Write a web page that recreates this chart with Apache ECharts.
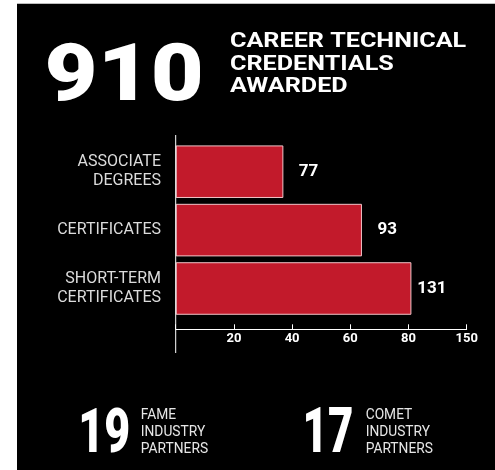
<!DOCTYPE html>
<html>
<head>
<meta charset="utf-8">
<script src="https://cdn.jsdelivr.net/npm/echarts@6/dist/echarts.min.js"></script>
<style>
html,body{margin:0;padding:0;background:#fff;}
#c{width:495px;height:470px;}
</style>
</head>
<body>
<div id="c"></div>
<script>
// Data
const categories = ['ASSOCIATE\nDEGREES', 'CERTIFICATES', 'SHORT-TERM\nCERTIFICATES'];
const barLengths = [37, 64, 81];
const valueLabels = ['77', '93', '131'];
const xTickValues = [20, 40, 60, 80, 100];
const xTickLabels = ['20', '40', '60', '80', '150'];
const totalCredentials = '910';
const headline = 'CAREER TECHNICAL\nCREDENTIALS\nAWARDED';
const fameCount = '19';
const fameText = 'FAME\nINDUSTRY\nPARTNERS';
const cometCount = '17';
const cometText = 'COMET\nINDUSTRY\nPARTNERS';

const F = 'Roboto, "Noto Sans", sans-serif';
const ctx = document.createElement('canvas').getContext('2d');

// Builds a text element whose ink box fits the given box
function fitText(o) {
  const lines = o.text.split('\n');
  const fitLine = lines[o.fitLine || 0];
  ctx.textBaseline = 'middle';
  ctx.font = o.weight + ' 100px ' + o.family;
  const a = ctx.measureText(lines[0]);
  const h100 = a.actualBoundingBoxAscent + a.actualBoundingBoxDescent;
  const size = (o.bottom - o.top) / h100 * 100;
  ctx.font = o.weight + ' ' + size + 'px ' + o.family;
  const m0 = ctx.measureText(lines[0]);
  const mf = ctx.measureText(fitLine);
  const inkW = mf.actualBoundingBoxLeft + mf.actualBoundingBoxRight;
  const s = (o.right - o.left) / inkW;
  const x = o.left + m0.actualBoundingBoxLeft * s;
  const yc = o.top + m0.actualBoundingBoxAscent;
  const pitch = o.pitch || size * 1.2;
  return {
    type: 'text', x: x, y: yc - pitch / 2, scaleX: s,
    style: {text: o.text, x: 0, y: 0, font: o.weight + ' ' + size + 'px ' + o.family,
      fill: o.color || '#fff', lineHeight: pitch, verticalAlign: 'top', align: 'left'}
  };
}

const chart = echarts.init(document.getElementById('c'), null, {renderer: 'canvas'});

const option = {
  backgroundColor: '#fff',
  animation: false,
  graphic: [
    {type: 'rect', z: -10, shape: {x: 17, y: 3, width: 478, height: 467}, style: {fill: '#000'}},
    {type: 'rect', z: -9, shape: {x: 17, y: 3, width: 478, height: 1}, style: {fill: '#bdbdbd'}},
    {type: 'line', z: 10, shape: {x1: 175.7, y1: 135, x2: 175.7, y2: 353}, style: {stroke: '#fff', lineWidth: 1}},
    fitText({text: totalCredentials, weight: 900, family: F, left: 48, right: 200, top: 41.7, bottom: 100}),
    fitText({text: headline, weight: 'bold', family: F, left: 230, right: 466, top: 31.7, bottom: 47, pitch: 22.8}),
    fitText({text: fameCount, weight: 900, family: F, left: 82, right: 128.3, top: 406.7, bottom: 451.7}),
    fitText({text: fameText, weight: 'normal', family: F, left: 141.7, right: 208.3, top: 408.3, bottom: 419, pitch: 16.7, fitLine: 2, color: '#e6e6e6'}),
    fitText({text: cometCount, weight: 900, family: F, left: 306, right: 351.7, top: 406.7, bottom: 451.7}),
    fitText({text: cometText, weight: 'normal', family: F, left: 365.7, right: 432.3, top: 408.3, bottom: 419, pitch: 16.7, fitLine: 2, color: '#e6e6e6'})
  ],
  grid: {left: 175.7, right: 28.3, top: 142.5, bottom: 152.3, containLabel: false},
  xAxis: {
    type: 'value', min: 0, max: 100, interval: 20, offset: 11.6,
    axisLine: {show: true, lineStyle: {color: '#fff', width: 1}},
    axisTick: {show: true, inside: true, length: 5, lineStyle: {color: '#fff'}},
    splitLine: {show: false},
    axisLabel: {
      color: '#fff', fontFamily: F, fontWeight: 'bold', fontSize: 13, margin: 3,
      formatter: function (v) { const i = xTickValues.indexOf(v); return i >= 0 ? xTickLabels[i] : ''; }
    }
  },
  yAxis: {
    type: 'category', data: categories, inverse: true,
    axisLine: {show: false}, axisTick: {show: false},
    axisLabel: {color: '#dcdcdc', fontFamily: F, fontSize: 16, lineHeight: 19, margin: 14.7, align: 'right'}
  },
  series: [{
    type: 'bar', data: barLengths, barCategoryGap: '10%',
    itemStyle: {color: '#c21a2b', borderColor: '#f2c4c8', borderWidth: 1},
    label: {
      show: true, position: 'right', distance: 35, align: 'right', color: '#fff', fontFamily: F, fontWeight: 'bold', fontSize: 17,
      formatter: function (p) { return valueLabels[p.dataIndex]; }
    }
  }]
};
chart.setOption(option);
</script>
</body>
</html>
